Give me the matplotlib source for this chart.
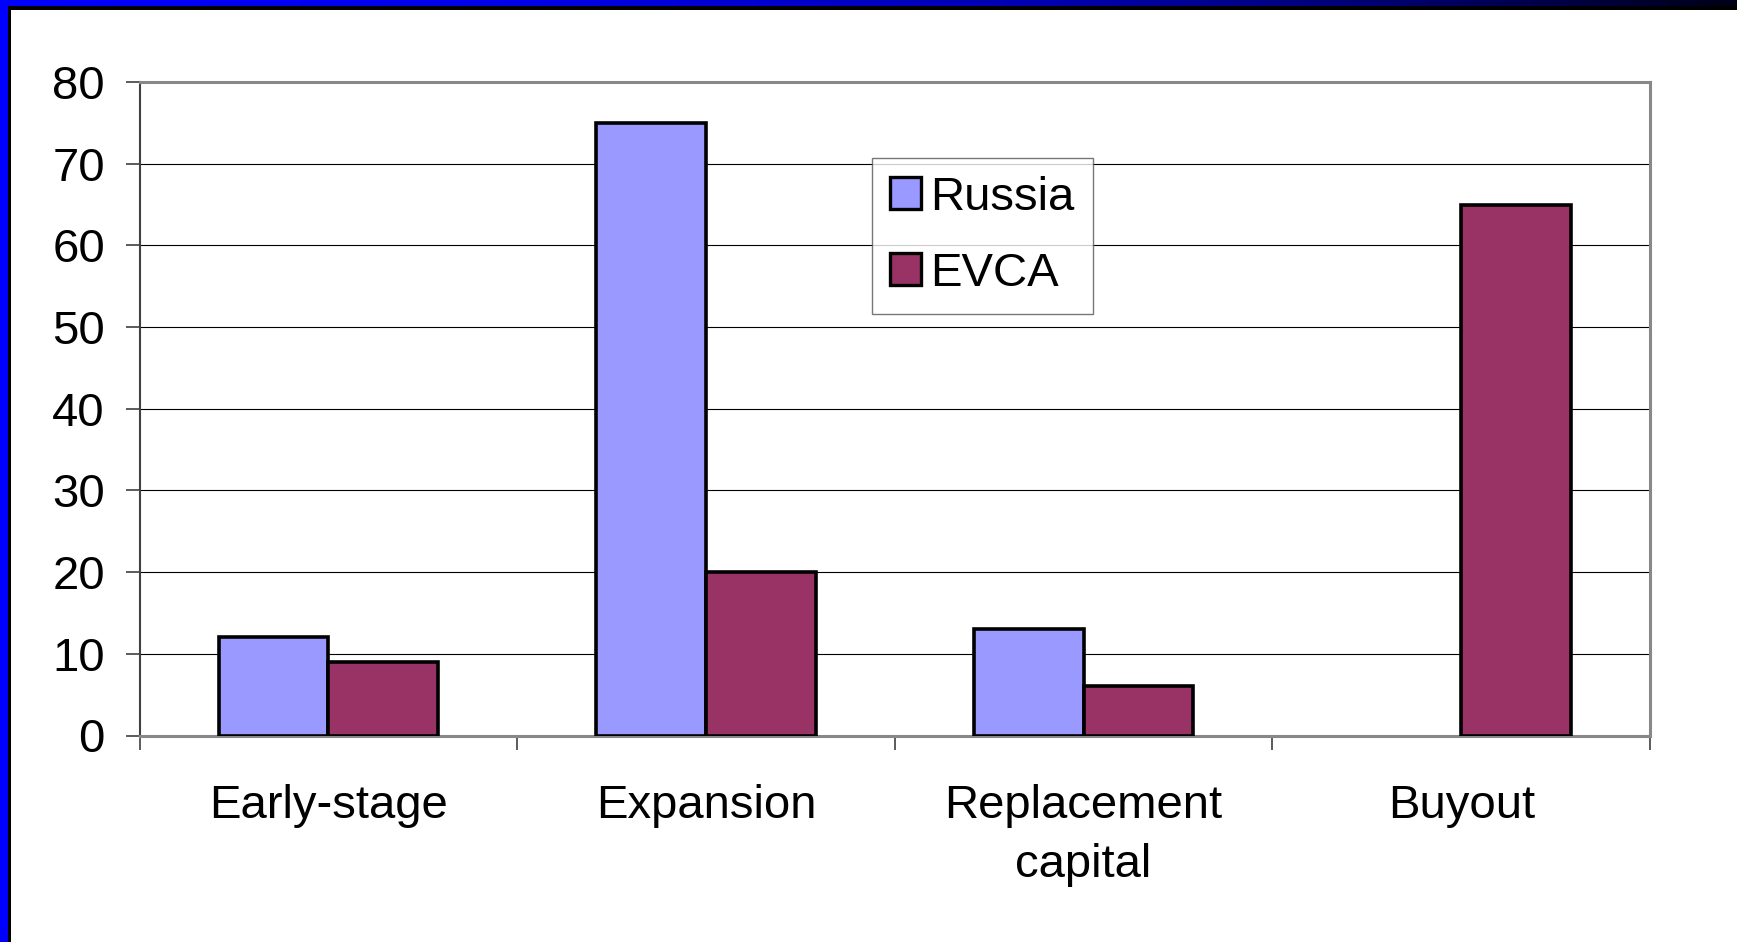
import matplotlib.pyplot as plt
import numpy as np
from matplotlib.colors import LinearSegmentedColormap
from matplotlib.patches import Rectangle

plt.rcParams['font.family'] = ['Liberation Sans', 'DejaVu Sans']

# Data
categories = ["Early-stage", "Expansion", "Replacement\ncapital", "Buyout"]
russia = [12, 75, 13, 0]
evca = [9, 20, 6, 65]

W, H = 1737, 942
fig = plt.figure(figsize=(W / 100, H / 100), dpi=100)

ax = fig.add_axes([139.6 / W, 1 - 735.5 / H, (1650 - 139.6) / W, (735.5 - 82) / H])

x = np.arange(len(categories))
bw = 0.29
b1 = ax.bar(x - bw / 2, russia, bw, color='#9999FF', edgecolor='black', linewidth=2.6,
            label='Russia', zorder=3)
b2 = ax.bar(x + bw / 2, evca, bw, color='#993366', edgecolor='black', linewidth=2.6,
            label='EVCA', zorder=3)
# empty bars are not drawn
for cont in (b1, b2):
    for p in cont.patches:
        if p.get_height() == 0:
            p.set_visible(False)

ax.set_xlim(-0.5, len(categories) - 0.5)
ax.set_ylim(0, 80)
ax.set_yticks(np.arange(0, 81, 10))
ax.tick_params(axis='y', labelsize=34, length=10, width=1.2, color='#404040', pad=15)

# category labels between boundary ticks
ax.set_xticks(np.arange(-0.5, len(categories), 1.0))
ax.set_xticklabels([])
ax.tick_params(axis='x', length=10, width=1.2, color='#404040')
ax.set_xticks(x, minor=True)
ax.set_xticklabels(categories, minor=True, fontsize=34, linespacing=1.43)
ax.tick_params(axis='x', which='minor', length=0, pad=35)

for yv in range(10, 80, 10):
    ax.axhline(yv, color='black', linewidth=0.8, zorder=1)

for side in ['top', 'right', 'bottom']:
    ax.spines[side].set_color('#888888')
    ax.spines[side].set_linewidth(2.2)
ax.spines['left'].set_color('#404040')
ax.spines['left'].set_linewidth(1.5)

leg = fig.legend(loc='upper left', bbox_to_anchor=(872 / W, 1 - 158 / H),
                 fontsize=34, frameon=True, fancybox=False, shadow=False,
                 handlelength=0.66, handleheight=0.66, handletextpad=0.2,
                 labelspacing=0.67, borderpad=0.38, borderaxespad=0)
leg.get_frame().set_edgecolor('#555555')
leg.get_frame().set_linewidth(1.0)
for h in leg.legend_handles:
    h.set_linewidth(2.4)

# slide frame: blue gradient top bar and blue left bar
top_ax = fig.add_axes([0, 1 - 6 / H, 1, 6 / H])
grad_cmap = LinearSegmentedColormap.from_list(
    'bar', [(0.0, '#0000ff'), (0.3, '#0000e8'), (0.6, '#0000b0'),
            (0.8, '#000070'), (1.0, '#000018')])
top_ax.imshow(np.linspace(0, 1, 400)[None, :], aspect='auto', cmap=grad_cmap)
top_ax.set_axis_off()
fig.patches.append(Rectangle((0, 1 - 9.5 / H), 1, 3.5 / H, transform=fig.transFigure,
                             facecolor='black', edgecolor='none'))
fig.patches.append(Rectangle((0, 0), 8 / W, 1, transform=fig.transFigure,
                             facecolor='#0000ff', edgecolor='none', zorder=2))
fig.patches.append(Rectangle((8 / W, 0), 3 / W, 1 - 6 / H, transform=fig.transFigure,
                             facecolor='black', edgecolor='none'))

fig.savefig('out.png', dpi=100)
